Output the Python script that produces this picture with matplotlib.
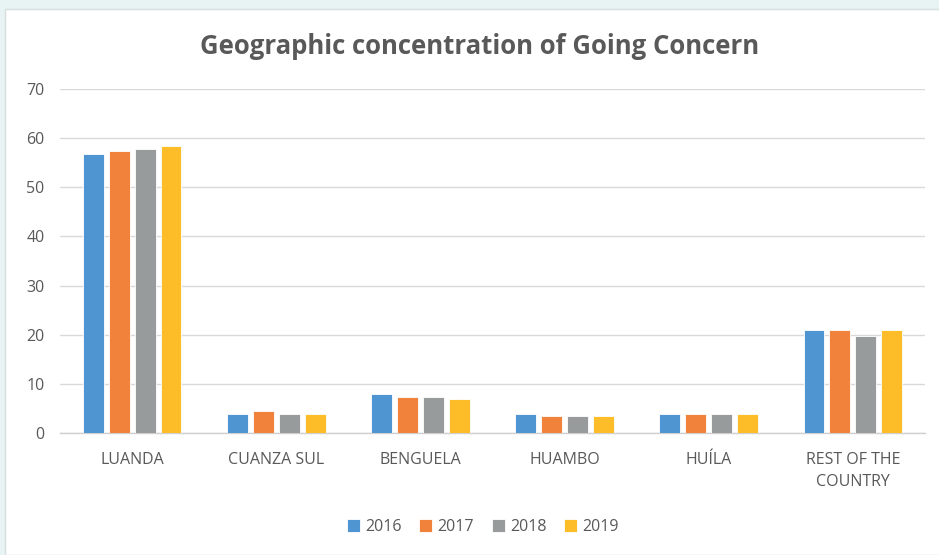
import matplotlib.pyplot as plt
import numpy as np
from matplotlib.patches import Rectangle

# Dados por região e ano
regioes = ['LUANDA', 'CUANZA SUL', 'BENGUELA', 'HUAMBO', 'HUÍLA', 'REST OF THE\nCOUNTRY']
anos = ['2016', '2017', '2018', '2019']
v2016 = [56.7, 3.8, 7.9, 3.8, 3.8, 20.9]
v2017 = [57.3, 4.5, 7.3, 3.5, 3.8, 20.9]
v2018 = [57.7, 3.8, 7.3, 3.5, 3.8, 19.8]
v2019 = [58.4, 3.8, 6.9, 3.5, 3.8, 20.9]

cores = ['#4f95d2', '#f1823b', '#989b9b', '#fdbd28']
texto = '#595959'

plt.rcParams['font.family'] = ['Open Sans', 'DejaVu Sans']

fig = plt.figure(figsize=(9.39, 5.55), dpi=100)
fig.patch.set_facecolor('#e8f4f4')
# painel branco do gráfico
fig.patches.append(Rectangle((5 / 939, 0), 1, (555 - 9) / 555, transform=fig.transFigure,
                             facecolor='white', edgecolor='#d6dede', linewidth=1, zorder=-10))

ax = fig.add_axes([60 / 939, (555 - 433) / 555, 865 / 939, (433 - 89) / 555])
ax.set_facecolor('none')

x = np.arange(len(regioes))
largura = 0.145
passo = 0.18
series = [v2016, v2017, v2018, v2019]
for i, (vals, cor, ano) in enumerate(zip(series, cores, anos)):
    ax.bar(x + (i - 1.5) * passo, vals, largura, color=cor, label=ano,
           edgecolor='white', linewidth=0.6, zorder=3)

ax.set_xlim(-0.5, len(regioes) - 0.5)
ax.set_ylim(0, 70)
ax.set_yticks(range(0, 71, 10))
ax.set_xticks(x)
ax.set_xticklabels(regioes, linespacing=1.5)
ax.tick_params(axis='both', length=0, colors=texto, labelsize=11.5)
ax.tick_params(axis='x', pad=14)
ax.tick_params(axis='y', pad=11)
ax.grid(True, axis='y', color='#d9d9d9', linewidth=1, zorder=0)
for lado in ['top', 'right', 'left']:
    ax.spines[lado].set_visible(False)
ax.spines['bottom'].set_color('#d0d0d0')
ax.spines['bottom'].set_linewidth(1)

fig.text(480 / 939, 1 - 46 / 555, 'Geographic concentration of Going Concern',
         ha='center', va='center', fontsize=18.5, fontweight='bold', color=texto)

fig.legend(loc='center', bbox_to_anchor=(483 / 939, 1 - 527 / 555), ncol=4, frameon=False,
           fontsize=11.5, labelcolor=texto, handlelength=0.8, handleheight=0.8,
           handletextpad=0.35, columnspacing=1.1)

fig.savefig('out.png', dpi=100)
